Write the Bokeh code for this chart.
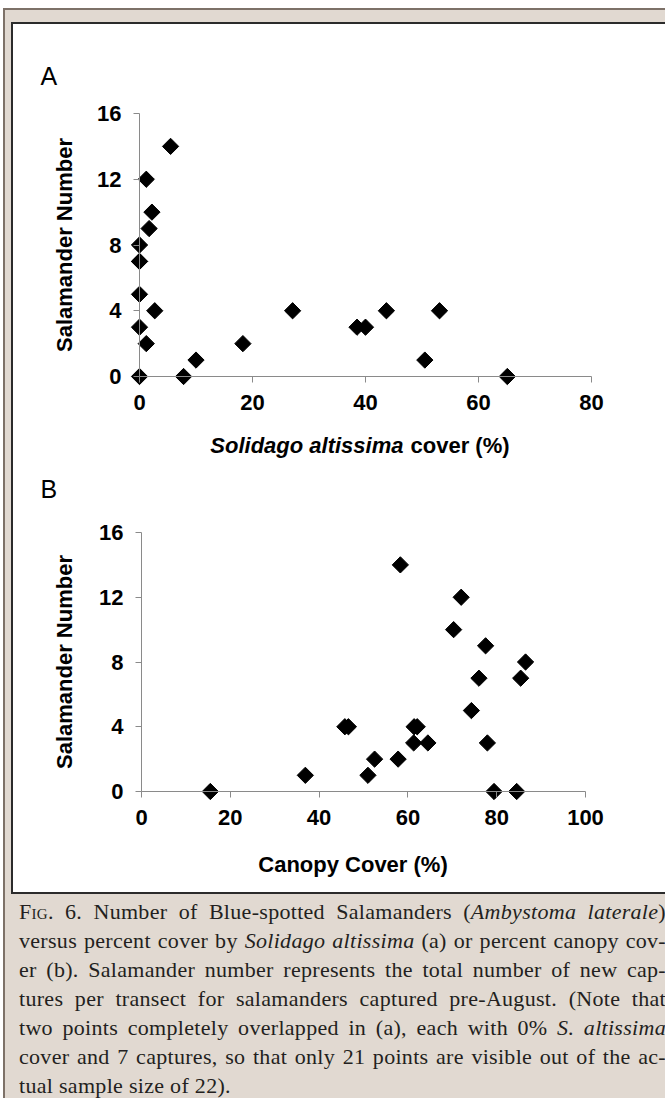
import math
from bokeh.plotting import figure
from bokeh.models import Range1d, FixedTicker, Label, Div
from bokeh.layouts import column
from bokeh.embed import file_html
from bokeh.resources import INLINE

# ---------------- data ----------------
solidago_cover = [0, 0, 0, 0, 0, 0, 1.2, 2.2, 1.7, 2.7, 1.2, 5.5, 7.8, 10.0, 18.3, 27.1, 38.5, 40.0, 43.7, 53.1, 50.5, 65.1]
salamanders_a = [8, 7, 7, 5, 3, 0, 12, 10, 9, 4, 2, 14, 0, 1, 2, 4, 3, 3, 4, 4, 1, 0]

canopy_cover = [15.5, 36.9, 45.8, 46.6, 51.0, 52.5, 57.8, 58.3, 61.4, 62.1, 61.3, 64.5, 70.3, 72.0, 74.3, 76.0, 77.5, 77.9, 79.4, 84.5, 85.4, 86.5]
salamanders_b = [0, 1, 4, 4, 1, 2, 2, 14, 4, 4, 3, 3, 10, 12, 5, 7, 9, 3, 0, 0, 7, 8]

y_ticks = [0, 4, 8, 12, 16]
x_ticks_a = [0, 20, 40, 60, 80]
x_ticks_b = [0, 20, 40, 60, 80, 100]

y_title = "Salamander Number"
x_title_a_italic = "Solidago altissima"
x_title_a_rest = "cover (%)"
x_title_b = "Canopy Cover (%)"

# ---------------- styles ----------------
BEIGE = "#e1d9d1"
FRAME = "#7d7168"
INNER = "#2b2b2b"
AXIS = "#8a8a8a"
FONT = "Liberation Sans"
FIG_W, FIG_H = 652, 434
LIFT = 8  # label text sits this many px lower than its anchor; compensate


def style_axes(p, xticks, xb, yb):
    p.grid.visible = False
    p.outline_line_color = None
    p.background_fill_color = "white"
    p.border_fill_color = "white"
    for ax in (p.xaxis, p.yaxis):
        ax.axis_line_color = AXIS
        ax.axis_line_width = 1
        ax.major_tick_line_color = AXIS
        ax.major_tick_out = 6
        ax.major_tick_in = 0
        ax.minor_tick_out = 0
        ax.minor_tick_in = 0
        ax.major_label_text_font = FONT
        ax.major_label_text_font_style = "bold"
        ax.major_label_text_font_size = "22px"
        ax.major_label_text_color = "black"
        ax.major_label_standoff = 12
    p.xaxis.ticker = FixedTicker(ticks=xticks)
    p.yaxis.ticker = FixedTicker(ticks=y_ticks)
    p.xaxis.fixed_location = 0
    p.yaxis.fixed_location = 0
    p.xaxis.bounds = xb
    p.yaxis.bounds = yb


def add_text(p, x, y, text, size="22px", style="bold", align="left", angle=0.0):
    p.add_layout(Label(x=x, y=y, text=text, text_font=FONT, text_font_style=style,
                       text_font_size=size, text_color="black", text_align=align,
                       text_baseline="alphabetic", angle=angle))


def make_fig(x0_px, xmax_px, xmax, y16_px, y0_px):
    # the frame covers the whole figure; ranges chosen so that the axis values
    # land on the wanted pixel positions inside it
    sx = (xmax_px - x0_px) / float(xmax)
    sy = (y0_px - y16_px) / 16.0
    xr = Range1d(-x0_px / sx, xmax + (FIG_W - xmax_px) / sx)
    yr = Range1d(-(FIG_H - y0_px) / sy, 16 + y16_px / sy)
    p = figure(width=FIG_W, height=FIG_H, x_range=xr, y_range=yr,
               output_backend="svg", toolbar_location=None,
               min_border_left=0, min_border_right=0, min_border_top=0, min_border_bottom=0)
    dx = lambda fx: (fx - x0_px) / sx
    dy = lambda fy: (y0_px - fy) / sy
    return p, dx, dy


# ---------------- panel A ----------------
pa, a_dx, a_dy = make_fig(126, 578, 80, 89, 352)
style_axes(pa, x_ticks_a, (0, 80), (0, 16))
pa.scatter(solidago_cover, salamanders_a, marker="square", size=11.5, angle=math.pi / 4,
           color="black")
add_text(pa, a_dx(59 - LIFT), 8, y_title, align="center", angle=math.pi / 2)
add_text(pa, a_dx(390), a_dy(429 - LIFT), x_title_a_italic, style="bold italic", align="right")
add_text(pa, a_dx(397), a_dy(429 - LIFT), x_title_a_rest, align="left")
add_text(pa, a_dx(27), a_dy(59 - LIFT), "A", size="25px", style="normal")

# ---------------- panel B ----------------
pb, b_dx, b_dy = make_fig(128, 572, 100, 74, 333)
style_axes(pb, x_ticks_b, (0, 100), (0, 16))
pb.scatter(canopy_cover, salamanders_b, marker="square", size=11.5, angle=math.pi / 4,
           color="black")
add_text(pb, b_dx(59 - LIFT), 8, y_title, align="center", angle=math.pi / 2)
add_text(pb, b_dx(339.5), b_dy(414 - LIFT), x_title_b, align="center")
add_text(pb, b_dx(27), b_dy(38 - LIFT), "B", size="25px", style="normal")

# ---------------- caption ----------------
lines = [
    '<span style="font-variant:small-caps">Fig</span>. 6. Number of Blue-spotted Salamanders (<i>Ambystoma laterale</i>)',
    'versus percent cover by <i>Solidago altissima</i> (a) or percent canopy cov-',
    'er (b). Salamander number represents the total number of new cap-',
    'tures per transect for salamanders captured pre-August. (Note that',
    'two points completely overlapped in (a), each with 0% <i>S. altissima</i>',
    'cover and 7 captures, so that only 21 points are visible out of the ac-',
    'tual sample size of 22).',
]
body = "".join(
    '<div style="text-align:justify;text-align-last:justify;white-space:nowrap;">%s</div>' % l
    for l in lines[:-1]) + '<div style="text-align:left;">%s</div>' % lines[-1]
cap_html = ('<div style="position:relative;top:-2px;width:656px;padding:0 0 0 9px;'
            'font-family:\'Liberation Serif\',serif;font-size:22px;letter-spacing:0.3px;'
            'line-height:29px;color:#231f20;">%s</div>' % body)
caption = Div(text=cap_html, width=660, height=204, styles={"overflow": "hidden"})

inner = column(pa, pb, margin=(12, 0, 0, 6),
               styles={"background-color": "white",
                       "border-left": "2px solid %s" % INNER,
                       "border-top": "2px solid %s" % INNER,
                       "border-bottom": "2px solid %s" % INNER})

root = column(inner, caption,
              styles={"background-color": BEIGE,
                      "border-left": "2px solid %s" % FRAME,
                      "border-top": "2px solid %s" % FRAME,
                      "margin-left": "3px",
                      "margin-top": "8px",
                      "overflow": "hidden"})

open("out.html", "w").write(file_html(root, INLINE))
